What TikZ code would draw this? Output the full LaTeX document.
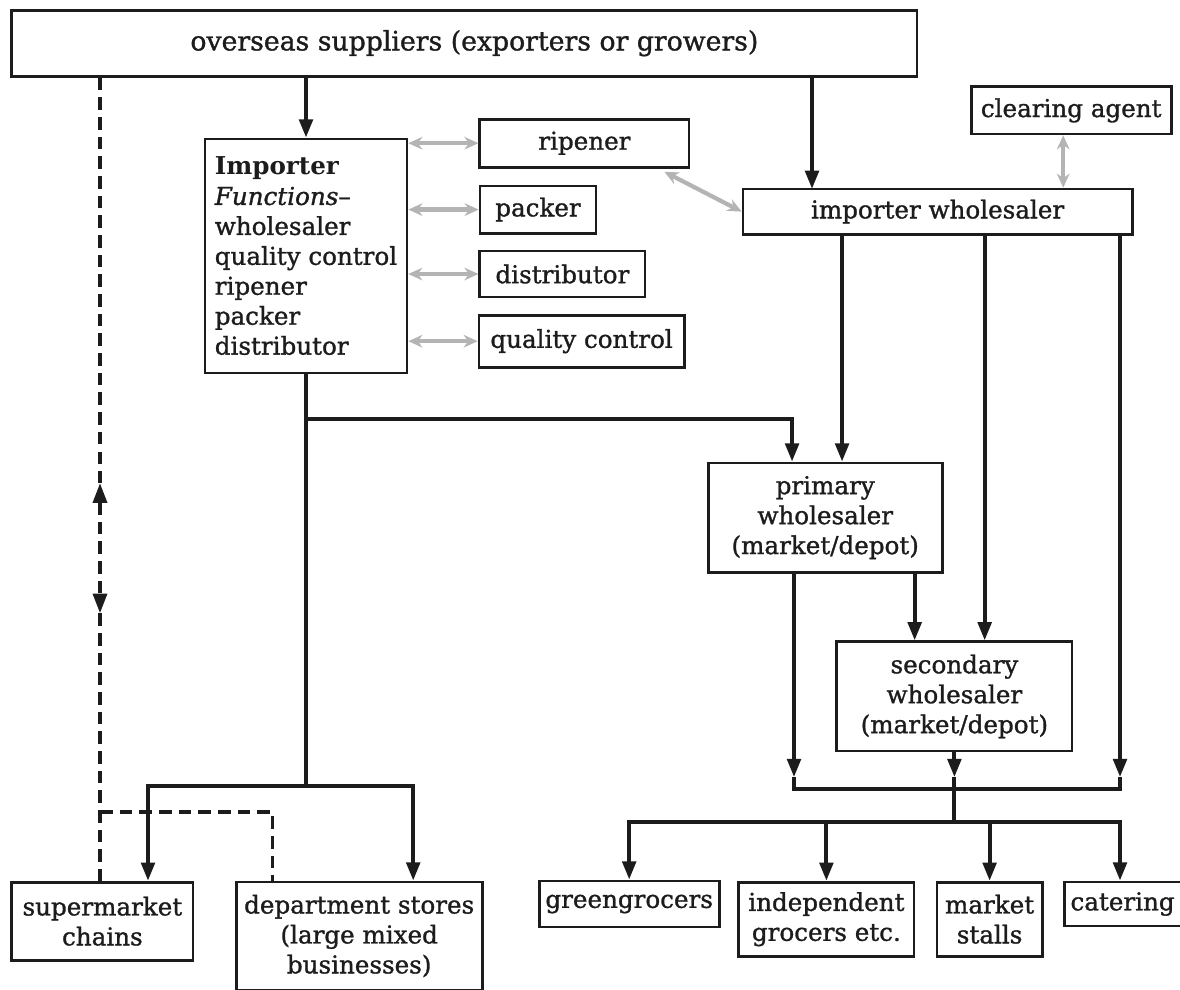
\documentclass[tikz,border=0pt]{standalone}
\usepackage{fontspec}
\setmainfont{DejaVu Serif}[UprightFeatures={FakeBold=1.2},ItalicFeatures={FakeBold=1.2}]
\usetikzlibrary{arrows.meta,calc}
\definecolor{tinte}{HTML}{1C1C1C}
\definecolor{hgrau}{HTML}{B4B4B4}
\newcommand{\kastenfont}{\fontsize{17.5}{21.3}\selectfont}
\tikzset{
  kasten/.style={draw=tinte,line width=1.9pt,inner sep=0pt,align=center,font=\kastenfont,text=tinte},
  pfeil/.style={-{Triangle[length=13pt,width=9.5pt]},tinte,line width=2.9pt},
  linie/.style={tinte,line width=2.9pt},
  strich/.style={tinte,line width=2.3pt,dash pattern=on 9pt off 5pt},
  strichpf/.style={{Triangle[length=14pt,width=10pt]}-{Triangle[length=14pt,width=10pt]},strich},
  hilf/.style={{Stealth[length=10pt,width=9pt]}-{Stealth[length=10pt,width=9pt]},hgrau,line width=3pt},
}

\begin{document}
\begin{tikzpicture}
  \useasboundingbox (0,0) rectangle (29.5,-24.725);
  \node[kasten,minimum width=22.63cm,minimum height=1.65cm,font=\fontsize{19}{23}\selectfont] (sup) at (11.61,-1.08) {\hspace*{0.5cm}overseas suppliers (exporters or growers)};
  \node[kasten,minimum width=5.05cm,minimum height=5.85cm,align=left] (imp) at (7.65,-6.40) {\textbf{Importer}\\\textit{Functions}--\\wholesaler\\quality control\\ripener\\packer\\distributor};
  \node[kasten,minimum width=5.23cm,minimum height=1.20cm] (rip) at (14.61,-3.58) {ripener};
  \node[kasten,minimum width=2.90cm,minimum height=1.18cm] (pack) at (13.45,-5.24) {packer};
  \node[kasten,minimum width=4.13cm,minimum height=1.15cm] (dist) at (14.06,-6.85) {distributor};
  \node[kasten,minimum width=5.13cm,minimum height=1.30cm] (qc) at (14.54,-8.53) {quality control};
  \node[kasten,minimum width=5.00cm,minimum height=1.18cm] (clear) at (26.78,-2.76) {clearing agent};
  \node[kasten,minimum width=9.73cm,minimum height=1.13cm] (iw) at (23.44,-5.29) {importer wholesaler};
  \node[kasten,minimum width=5.85cm,minimum height=2.73cm] (prim) at (20.63,-12.94) {primary\\wholesaler\\(market/depot)};
  \node[kasten,minimum width=5.88cm,minimum height=2.73cm] (sec) at (23.86,-17.41) {secondary\\wholesaler\\(market/depot)};
  \node[kasten,minimum width=4.53cm,minimum height=1.95cm] (smc) at (2.56,-23.03) {supermarket\\chains};
  \node[kasten,minimum width=6.15cm,minimum height=2.70cm] (dept) at (8.98,-23.40) {department stores\\(large mixed\\businesses)};
  \node[kasten,minimum width=4.50cm,minimum height=1.15cm] (green) at (15.73,-22.60) {greengrocers};
  \node[kasten,minimum width=4.38cm,minimum height=1.85cm] (indep) at (20.66,-22.98) {independent\\grocers etc.};
  \node[kasten,minimum width=2.63cm,minimum height=1.85cm] (stalls) at (24.74,-22.98) {market\\stalls};
  \node[kasten,minimum width=3.20cm,minimum height=1.10cm,anchor=west,text width=2.9cm,align=left] (cater) at (26.58,-22.60) {catering};

  \coordinate (dup) at (2.50,-12.08);
  \coordinate (ddn) at (2.50,-15.33);
  \coordinate (dbr) at (2.50,-20.30);
  \coordinate (b1) at (7.65,-10.48);
  \coordinate (b2) at (7.65,-19.65);
  \coordinate (iwin) at (20.30,-4.725);
  \coordinate (pin) at ($(prim.north west)+(2.13,0)$);
  \coordinate (pin2) at ($(prim.north west)+(3.38,0)$);
  \coordinate (sin) at ($(sec.north west)+(3.73,0)$);
  \coordinate (sin3) at ($(sec.north west)+(1.98,0)$);
  \coordinate (a1) at (19.85,-19.43);
  \coordinate (a2) at (23.86,-19.43);
  \coordinate (a3) at (28.00,-19.43);
  \coordinate (c3) at (28.00,-19.73);
  \coordinate (d0) at (23.86,-20.55);
  \coordinate (rp) at ($(rip.south east)+(-0.65,-0.08)$);
  \coordinate (ga) at ($(clear.south)+(-0.20,0)$);

  \draw[pfeil] (sup.south -| imp.north) -- (imp.north);
  \draw[pfeil] (sup.south -| iwin) -- (iwin);
  \draw[strich] (sup.south -| dup) -- (dup);
  \draw[strichpf] (dup) -- (ddn);
  \draw[strich] (ddn) -- (smc.north -| ddn);
  \draw[strich] (dbr) -| ($(dept.north west)+(0.95,0)$);

  \draw[hilf] (imp.east |- rip.west) -- (rip.west);
  \draw[hilf] (imp.east |- pack.west) -- (pack.west);
  \draw[hilf] (imp.east |- dist.west) -- (dist.west);
  \draw[hilf] (imp.east |- qc.west) -- (qc.west);
  \draw[hilf] (rp) -- (iw.west);
  \draw[hilf] (ga) -- (ga |- iw.north);

  \draw[linie] (imp.south) -- (b2);
  \draw[pfeil] (b1) -| (pin);
  \draw[pfeil] (b2) -| ($(smc.north)+(1.14,0)$);
  \draw[pfeil] (b2) -| ($(dept.north)+(1.35,0)$);

  \draw[pfeil] (iw.south -| pin2) -- (pin2);
  \draw[pfeil] (iw.south -| sin) -- (sin);
  \draw[pfeil] (prim.south -| sin3) -- (sin3);
  \draw[pfeil] (prim.south -| a1) -- (a1);
  \draw[pfeil] (sec.south) -- (a2);
  \draw[pfeil] (iw.south -| a3) -- (a3);
  \draw[linie] (a1) |- (c3) -- (a3);
  \draw[linie] (a2) -- (d0);

  \draw[pfeil] (d0) -| (green.north);
  \draw[pfeil] (d0) -| (indep.north);
  \draw[pfeil] (d0) -| (stalls.north);
  \draw[pfeil] (d0) -| (cater.north -| a3);
\end{tikzpicture}
\end{document}
